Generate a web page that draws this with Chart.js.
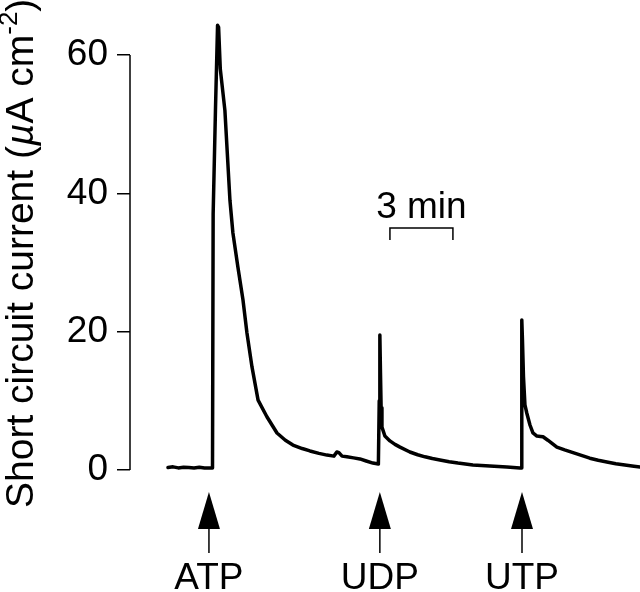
<!DOCTYPE html>
<html><head><meta charset="utf-8">
<script src="https://cdn.jsdelivr.net/npm/chart.js@4/dist/chart.umd.min.js"></script>
<style>html,body{margin:0;padding:0;background:#fff;} #wrap{width:640px;height:592px;position:relative;}</style>
</head><body><div id="wrap"><canvas id="c"></canvas></div>
<script>
// Time in minutes (from the y-axis), short circuit current in µA cm^-2
const timeMin = [1.81,2.05,2.3,2.55,2.8,3.05,3.3,3.55,3.8,3.93,3.96,4.07,4.17,4.22,4.3,4.52,4.76,4.9,5.14,5.38,5.57,5.81,6.1,6.52,7.0,7.4,7.76,8.2,8.57,9.0,9.38,9.71,9.85,9.95,10.1,10.33,10.65,10.95,11.25,11.57,11.83,11.87,11.9,11.93,11.96,12.0,12.14,12.38,12.62,12.86,13.33,13.7,14.05,14.4,14.76,15.2,15.62,16.33,17.14,17.95,18.57,18.63,18.66,18.69,18.74,18.81,18.9,19.05,19.19,19.38,19.55,19.67,19.9,20.33,20.7,21.1,21.5,21.9,22.3,22.71,23.14,23.57,24.0,24.29];
const currentUA = [0.35,0.45,0.3,0.4,0.35,0.3,0.4,0.3,0.3,0.3,37,52,64.3,64.0,58,52.0,39.0,34.3,29.3,24.6,19.8,14.9,10.1,7.7,5.35,4.3,3.6,3.1,2.75,2.4,2.15,2.0,2.6,2.5,2.0,1.9,1.75,1.6,1.3,1.0,0.85,10,19.5,14,9,6.2,4.9,4.2,3.7,3.3,2.6,2.2,1.9,1.65,1.45,1.2,1.0,0.72,0.58,0.43,0.3,0.3,21.7,19,13.5,9.4,8.2,6.5,5.35,4.9,4.85,4.8,4.3,3.3,2.9,2.5,2.1,1.7,1.4,1.16,0.9,0.72,0.55,0.43];
const yTicks = [0,20,40,60];
const agonists = ['ATP','UDP','UTP'];
const agonistTimes = [3.76,11.9,18.67];
const scaleBarLabel = '3 min';
const scaleBarStart = 12.38;
const scaleBarMinutes = 3;

const FONT = '"Liberation Sans", Arial, Helvetica, sans-serif';

const annot = {
  id: 'annot',
  afterDraw(chart) {
    const ctx = chart.ctx, xs = chart.scales.x, ys = chart.scales.y;
    ctx.save();
    ctx.strokeStyle = '#000'; ctx.fillStyle = '#000';
    // y spine from 0 to 60
    ctx.lineWidth = 1.5;
    const sx = chart.chartArea.left;
    ctx.beginPath();
    ctx.moveTo(sx, ys.getPixelForValue(yTicks[yTicks.length-1]));
    ctx.lineTo(sx, ys.getPixelForValue(yTicks[0]));
    ctx.stroke();

    // y title (rotated) with superscript
    ctx.save();
    ctx.translate(33, 508);
    ctx.rotate(-Math.PI/2);
    ctx.textBaseline = 'alphabetic'; ctx.textAlign = 'left';
    const segs = [
      {t:'Short circuit current (', f:'39px '+FONT, dy:0},
      {t:'\u00b5', f:'italic 39px '+FONT, dy:0},
      {t:'A cm', f:'39px '+FONT, dy:0},
      {t:'-2', f:'26px '+FONT, dy:-16},
      {t:')', f:'39px '+FONT, dy:0}
    ];
    let px = 0;
    for (const s of segs) {
      ctx.font = s.f;
      ctx.fillText(s.t, px, s.dy);
      px += ctx.measureText(s.t).width;
    }
    ctx.restore();

    // agonist arrows and labels
    ctx.font = '37px ' + FONT;
    ctx.textAlign = 'center'; ctx.textBaseline = 'alphabetic';
    agonists.forEach((name, i) => {
      const x = xs.getPixelForValue(agonistTimes[i]);
      ctx.beginPath();
      ctx.moveTo(x, 492); ctx.lineTo(x - 11, 529); ctx.lineTo(x + 11, 529); ctx.closePath();
      ctx.fill();
      ctx.lineWidth = 1.5;
      ctx.beginPath(); ctx.moveTo(x, 528); ctx.lineTo(x, 553); ctx.stroke();
      ctx.fillText(name, x, 589);
    });

    // time scale bar
    const x1 = xs.getPixelForValue(scaleBarStart);
    const x2 = xs.getPixelForValue(scaleBarStart + scaleBarMinutes);
    const by = ys.getPixelForValue(35);
    ctx.lineWidth = 1.5;
    ctx.beginPath();
    ctx.moveTo(x1, by + 12); ctx.lineTo(x1, by); ctx.lineTo(x2, by); ctx.lineTo(x2, by + 12);
    ctx.stroke();
    ctx.fillText(scaleBarLabel, (x1 + x2) / 2, by - 10);
    ctx.restore();
  }
};

new Chart(document.getElementById('c'), {
  type: 'line',
  data: {
    labels: timeMin,
    datasets: [{
      data: timeMin.map((t, i) => ({x: t, y: currentUA[i]})),
      borderColor: '#000', borderWidth: 3.5, pointRadius: 0, tension: 0,
      borderJoinStyle: 'round', borderCapStyle: 'round', fill: false
    }]
  },
  options: {
    responsive: true, maintainAspectRatio: false, animation: false,
    devicePixelRatio: 1,
    layout: {padding: {left: 0, right: 0, top: 13.5, bottom: 108.2}},
    plugins: {legend: {display: false}, tooltip: {enabled: false}},
    scales: {
      x: {type: 'linear', min: 0, max: 24.29, display: false},
      y: {
        type: 'linear', min: -2, max: 66,
        afterBuildTicks: s => { s.ticks = yTicks.map(v => ({value: v})); },
        afterFit: s => { s.width = 130; s.paddingTop = 0; s.paddingBottom = 0; },
        border: {display: false},
        grid: {display: true, drawOnChartArea: false, drawTicks: true, tickLength: 13, color: '#000', lineWidth: 1.5},
        ticks: {color: '#000', padding: 9, font: {family: FONT, size: 37}}
      }
    }
  },
  plugins: [annot]
});
</script>
</body></html>
